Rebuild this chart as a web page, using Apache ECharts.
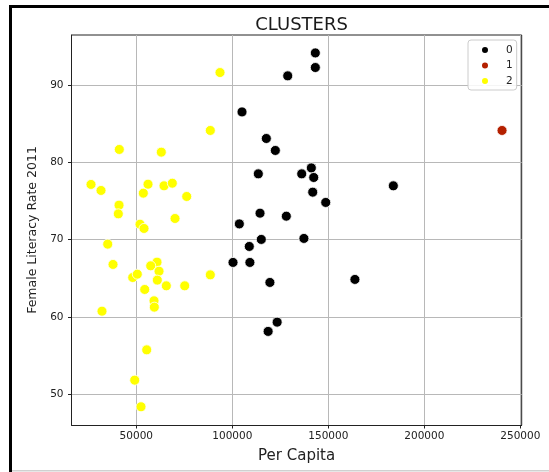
<!DOCTYPE html>
<html>
<head>
<meta charset="utf-8">
<script src="https://cdn.jsdelivr.net/npm/echarts@6/dist/echarts.min.js"></script>
<style>
  html, body { margin: 0; padding: 0; background: #fff; }
  #chart { width: 549px; height: 472px; }
</style>
</head>
<body>
<div id="chart"></div>
<script>
// Per-capita income vs. female literacy, grouped into three clusters.
const clusterNames = ['0', '1', '2'];
const clusterColors = ['#000000', '#b42000', '#ffff00'];

const cluster0 = [
  [143230, 94.18], [143230, 92.29], [128850, 91.21], [105050, 86.54],
  [117710, 83.10], [122400, 81.55], [113540, 78.52], [136140, 78.52],
  [141150, 79.29], [142390, 78.05], [141870, 76.15], [148640, 74.82],
  [183850, 76.97], [114430, 73.43], [128120, 73.04], [103650, 72.04],
  [115090, 70.03], [137280, 70.16], [108840, 69.12], [100360, 67.05],
  [109150, 67.05], [119570, 64.46], [163840, 64.85], [123340, 59.32],
  [118650, 58.12]
];
const cluster1 = [
  [240460, 84.14]
];
const cluster2 = [
  [93590, 91.64], [88540, 84.14], [41150, 81.68], [63020, 81.33],
  [26410, 77.15], [31620, 76.37], [56100, 77.18], [53650, 76.02],
  [64430, 76.97], [68750, 77.31], [76250, 75.59], [41000, 74.47],
  [40630, 73.34], [70160, 72.74], [51930, 72.00], [54010, 71.45],
  [35110, 69.42], [37870, 66.79], [60780, 67.09], [57500, 66.61],
  [61830, 65.92], [48130, 65.10], [50520, 65.53], [60940, 64.76],
  [65630, 64.02], [75210, 64.02], [88540, 65.44], [54380, 63.55],
  [59220, 62.08], [59380, 61.26], [32130, 60.74], [55420, 55.73],
  [49170, 51.81], [52450, 48.36]
];

const xTicks = [50000, 100000, 150000, 200000, 250000];
const yTicks = [50, 60, 70, 80, 90];
const xRange = [16250, 250700];
const yRange = [46.0, 96.5];

const FONT = 'DejaVu Sans';
const clusters = [cluster0, cluster1, cluster2];

const chart = echarts.init(document.getElementById('chart'), null, { renderer: 'canvas' });

chart.setOption({
  backgroundColor: '#ffffff',
  animation: false,
  title: {
    text: 'CLUSTERS',
    left: 296.6,
    textAlign: 'center',
    top: 11,
    textStyle: { fontFamily: FONT, fontSize: 18, fontWeight: 'normal', color: '#1a1a1a' }
  },
  legend: {
    orient: 'vertical',
    left: 468,
    top: 40,
    data: clusterNames,
    icon: 'circle',
    itemWidth: 8,
    itemHeight: 8,
    itemGap: 3.5,
    padding: [4, 4, 3, 12],
    backgroundColor: 'rgba(255,255,255,0.85)',
    borderColor: '#cccccc',
    borderWidth: 1,
    borderRadius: 3,
    textStyle: { fontFamily: FONT, fontSize: 10.5, color: '#222', lineHeight: 12, padding: [0, 0, 0, 12] }
  },
  grid: { left: 71.5, right: 27.3, top: 35, bottom: 47, containLabel: false },
  xAxis: {
    type: 'value',
    min: xRange[0],
    max: xRange[1],
    name: 'Per Capita',
    nameLocation: 'middle',
    nameGap: 24,
    nameTextStyle: { fontFamily: FONT, fontSize: 15, color: '#222' },
    axisLine: { show: true, onZero: false, lineStyle: { color: '#222', width: 1 } },
    axisTick: { show: true, inside: false, length: 3.5, lineStyle: { color: '#222' }, customValues: xTicks },
    axisLabel: {
      fontFamily: FONT, fontSize: 10.5, color: '#222', margin: 6,
      customValues: xTicks, formatter: v => String(v)
    },
    splitLine: { show: true, lineStyle: { color: '#b8b8b8', width: 1 } }
  },
  yAxis: {
    type: 'value',
    min: yRange[0],
    max: yRange[1],
    name: 'Female Literacy Rate 2011',
    nameLocation: 'middle',
    nameGap: 29,
    nameTextStyle: { fontFamily: FONT, fontSize: 12.5, color: '#222' },
    axisLine: { show: true, onZero: false, lineStyle: { color: '#222', width: 1 } },
    axisTick: { show: true, inside: false, length: 3.5, lineStyle: { color: '#222' }, customValues: yTicks },
    axisLabel: {
      fontFamily: FONT, fontSize: 10.5, color: '#222', margin: 8,
      customValues: yTicks, formatter: v => String(v)
    },
    splitLine: { show: true, lineStyle: { color: '#b8b8b8', width: 1 } }
  },
  graphic: [
    // outer frame: thick black left/top edges, faint gray bottom edge
    { type: 'rect', shape: { x: 9, y: 5, width: 3, height: 467 }, style: { fill: '#000' }, silent: true },
    { type: 'rect', shape: { x: 9, y: 5, width: 540, height: 3 }, style: { fill: '#000' }, silent: true },
    { type: 'rect', shape: { x: 12, y: 470, width: 537, height: 1.5 }, style: { fill: '#d0d0d0' }, silent: true },
    // top and right spines of the plot box
    { type: 'line', shape: { x1: 521.7, y1: 35, x2: 521.7, y2: 425 }, style: { stroke: '#222', lineWidth: 1 }, silent: true },
    { type: 'line', shape: { x1: 71.5, y1: 35, x2: 521.7, y2: 35 }, style: { stroke: '#222', lineWidth: 1 }, silent: true }
  ],
  series: clusters.map((pts, i) => ({
    name: clusterNames[i],
    type: 'scatter',
    data: pts,
    symbol: 'circle',
    symbolSize: 10,
    itemStyle: { color: clusterColors[i], borderColor: '#ffffff', borderWidth: 0.8, opacity: 1 },
    emphasis: { disabled: true }
  }))
});
</script>
</body>
</html>
